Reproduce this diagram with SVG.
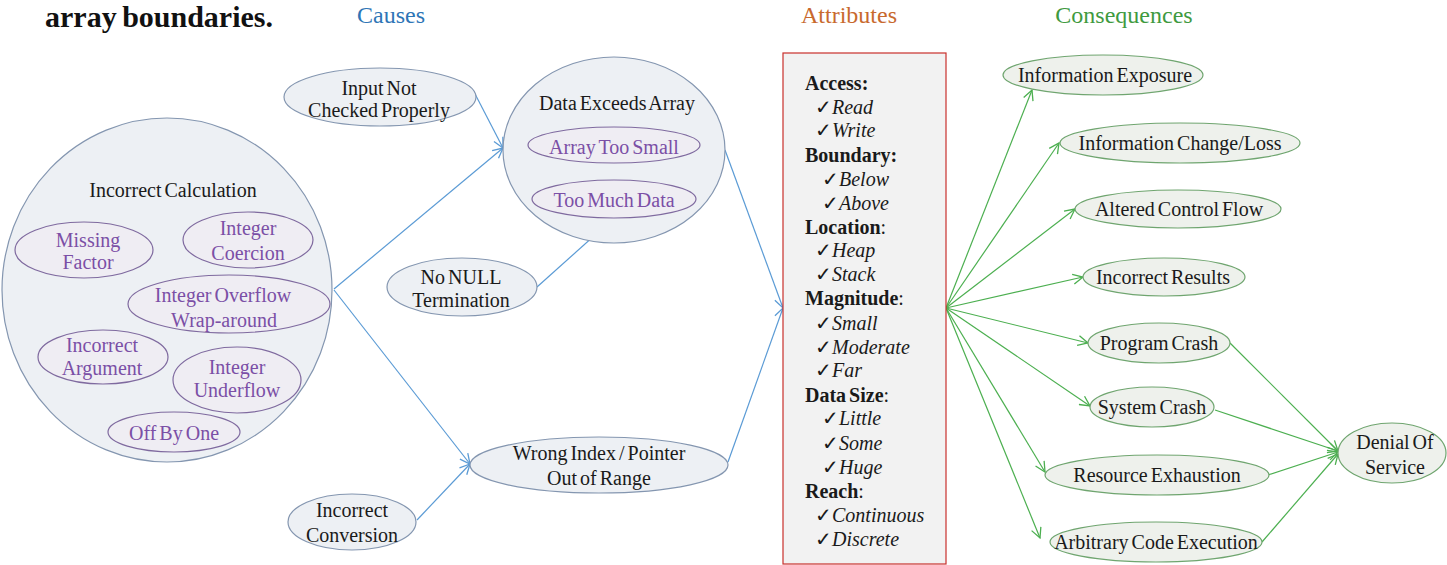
<svg xmlns="http://www.w3.org/2000/svg" width="1447" height="565" viewBox="0 0 1447 565">
<style>
text{font-family:'Liberation Serif','Times New Roman',serif;font-size:20px;word-spacing:-2px;fill:#1a1a1a}
.t{text-anchor:middle}
.p{fill:#7b4fa6}
.cause{fill:#edf0f4;stroke:#8496b0;stroke-width:1.2}
.sub{fill:#efedf3;stroke:#7f6a9f;stroke-width:1.2}
.cons{fill:#eef1ec;stroke:#6fa56f;stroke-width:1.2}
.hd{font-size:24px}
.b{font-weight:bold}
.i{font-style:italic}
.bl{fill:none;stroke:#5b9bd5;stroke-width:1.2}
.gr{fill:none;stroke:#4caf50;stroke-width:1.2}
</style>
<defs>
<marker id="ab" viewBox="0 0 12 12" refX="11" refY="6" markerWidth="12" markerHeight="12" markerUnits="userSpaceOnUse" orient="auto"><path d="M1,1 L11,6 L1,11" fill="none" stroke="#5b9bd5" stroke-width="1.3"/></marker>
<marker id="ag" viewBox="0 0 12 12" refX="11" refY="6" markerWidth="12" markerHeight="12" markerUnits="userSpaceOnUse" orient="auto"><path d="M1,1 L11,6 L1,11" fill="none" stroke="#4caf50" stroke-width="1.3"/></marker>
</defs>
<rect width="1447" height="565" fill="#ffffff"/>
<text x="45" y="27" class="b" style="font-size:30px;fill:#111">array boundaries.</text>
<text x="391" y="23" class="t hd" style="fill:#2e75b6">Causes</text>
<text x="849" y="23" class="t hd" style="fill:#c8692e">Attributes</text>
<text x="1124" y="23" class="t hd" style="fill:#3f9a3f">Consequences</text>

<g id="connectors">
<line class="bl" x1="473" y1="90" x2="503" y2="148" marker-end="url(#ab)"/>
<line class="bl" x1="334" y1="289" x2="503" y2="148" marker-end="url(#ab)"/>
<line class="bl" x1="537" y1="287" x2="614" y2="218" marker-end="url(#ab)"/>
<line class="bl" x1="334" y1="290" x2="470" y2="464" marker-end="url(#ab)"/>
<line class="bl" x1="417" y1="520" x2="470" y2="464" marker-end="url(#ab)"/>
<line class="bl" x1="725" y1="150" x2="783" y2="308" marker-end="url(#ab)"/>
<line class="bl" x1="728" y1="462" x2="783" y2="308" marker-end="url(#ab)"/>
<line class="gr" x1="946" y1="308" x2="1032" y2="90" marker-end="url(#ag)"/>
<line class="gr" x1="946" y1="308" x2="1059" y2="143" marker-end="url(#ag)"/>
<line class="gr" x1="946" y1="308" x2="1075" y2="209" marker-end="url(#ag)"/>
<line class="gr" x1="946" y1="308" x2="1083" y2="277" marker-end="url(#ag)"/>
<line class="gr" x1="946" y1="308" x2="1088" y2="343" marker-end="url(#ag)"/>
<line class="gr" x1="946" y1="308" x2="1090" y2="406" marker-end="url(#ag)"/>
<line class="gr" x1="946" y1="308" x2="1045" y2="472" marker-end="url(#ag)"/>
<line class="gr" x1="946" y1="308" x2="1040" y2="538" marker-end="url(#ag)"/>
<line class="gr" x1="1230" y1="343" x2="1338" y2="451" marker-end="url(#ag)"/>
<line class="gr" x1="1215" y1="410" x2="1338" y2="451" marker-end="url(#ag)"/>
<line class="gr" x1="1268" y1="475" x2="1338" y2="452" marker-end="url(#ag)"/>
<line class="gr" x1="1262" y1="542" x2="1338" y2="454" marker-end="url(#ag)"/>
</g>

<g id="input-not-checked">
<ellipse class="cause" cx="380" cy="97" rx="96" ry="29"/>
<text class="t" x="379" y="95">Input Not</text>
<text class="t" x="379" y="117">Checked Properly</text>
</g>

<g id="incorrect-calculation">
<ellipse class="cause" cx="167" cy="290" rx="165" ry="172"/>
<text class="t" x="173" y="197">Incorrect Calculation</text>
</g>
<g id="missing-factor">
<ellipse class="sub" cx="84" cy="250" rx="69" ry="28"/>
<text class="t p" x="88" y="247">Missing</text>
<text class="t p" x="88" y="269">Factor</text>
</g>
<g id="integer-coercion">
<ellipse class="sub" cx="248" cy="240" rx="65" ry="28"/>
<text class="t p" x="248" y="235">Integer</text>
<text class="t p" x="248" y="260">Coercion</text>
</g>
<g id="integer-overflow">
<ellipse class="sub" cx="229" cy="304" rx="101" ry="29"/>
<text class="t p" x="223" y="302">Integer Overflow</text>
<text class="t p" x="224" y="327">Wrap-around</text>
</g>
<g id="incorrect-argument">
<ellipse class="sub" cx="103" cy="357" rx="65" ry="27"/>
<text class="t p" x="102" y="352">Incorrect</text>
<text class="t p" x="102" y="375">Argument</text>
</g>
<g id="integer-underflow">
<ellipse class="sub" cx="237" cy="380" rx="64" ry="33"/>
<text class="t p" x="237" y="374">Integer</text>
<text class="t p" x="237" y="397">Underflow</text>
</g>
<g id="off-by-one">
<ellipse class="sub" cx="174" cy="432" rx="66" ry="20"/>
<text class="t p" x="174" y="440">Off By One</text>
</g>

<g id="data-exceeds-array">
<ellipse class="cause" cx="614" cy="150" rx="111" ry="93"/>
<text class="t" x="617" y="110">Data Exceeds Array</text>
</g>
<g id="array-too-small">
<ellipse class="sub" cx="614" cy="145" rx="86" ry="18"/>
<text class="t p" x="614" y="154">Array Too Small</text>
</g>
<g id="too-much-data">
<ellipse class="sub" cx="614" cy="199" rx="82" ry="19"/>
<text class="t p" x="614" y="207">Too Much Data</text>
</g>

<g id="no-null-termination">
<ellipse class="cause" cx="462" cy="287" rx="75" ry="29"/>
<text class="t" x="461" y="284">No NULL</text>
<text class="t" x="461" y="307">Termination</text>
</g>
<g id="wrong-index">
<ellipse class="cause" cx="599" cy="465" rx="129" ry="28"/>
<text class="t" x="599" y="460">Wrong Index / Pointer</text>
<text class="t" x="599" y="485">Out of Range</text>
</g>
<g id="incorrect-conversion">
<ellipse class="cause" cx="352" cy="522" rx="64" ry="28"/>
<text class="t" x="352" y="517">Incorrect</text>
<text class="t" x="352" y="542">Conversion</text>
</g>

<g id="attributes">
<rect x="783" y="53" width="163" height="511" fill="#f2f2f2" stroke="#c9302c" stroke-width="1.2"/>
<text x="805" y="90" class="b">Access:</text>
<text x="815" y="114">✓<tspan class="i">Read</tspan></text>
<text x="815" y="137">✓<tspan class="i">Write</tspan></text>
<text x="805" y="162" class="b">Boundary:</text>
<text x="822" y="186">✓<tspan class="i">Below</tspan></text>
<text x="822" y="210">✓<tspan class="i">Above</tspan></text>
<text x="805" y="234"><tspan class="b">Location</tspan>:</text>
<text x="815" y="257">✓<tspan class="i">Heap</tspan></text>
<text x="815" y="281">✓<tspan class="i">Stack</tspan></text>
<text x="805" y="305"><tspan class="b">Magnitude</tspan>:</text>
<text x="815" y="330">✓<tspan class="i">Small</tspan></text>
<text x="815" y="354">✓<tspan class="i">Moderate</tspan></text>
<text x="815" y="377">✓<tspan class="i">Far</tspan></text>
<text x="805" y="402"><tspan class="b">Data Size</tspan>:</text>
<text x="822" y="425">✓<tspan class="i">Little</tspan></text>
<text x="822" y="450">✓<tspan class="i">Some</tspan></text>
<text x="822" y="474">✓<tspan class="i">Huge</tspan></text>
<text x="805" y="498"><tspan class="b">Reach</tspan>:</text>
<text x="815" y="522">✓<tspan class="i">Continuous</tspan></text>
<text x="815" y="546">✓<tspan class="i">Discrete</tspan></text>
</g>

<g id="information-exposure">
<ellipse class="cons" cx="1103" cy="75" rx="100" ry="20"/>
<text class="t" x="1105" y="82">Information Exposure</text>
</g>
<g id="information-change">
<ellipse class="cons" cx="1180" cy="143" rx="120" ry="20"/>
<text class="t" x="1180" y="150">Information Change/Loss</text>
</g>
<g id="altered-control-flow">
<ellipse class="cons" cx="1178" cy="209" rx="103" ry="19"/>
<text class="t" x="1179" y="216">Altered Control Flow</text>
</g>
<g id="incorrect-results">
<ellipse class="cons" cx="1164" cy="277" rx="81" ry="19"/>
<text class="t" x="1163" y="284">Incorrect Results</text>
</g>
<g id="program-crash">
<ellipse class="cons" cx="1159" cy="343" rx="71" ry="20"/>
<text class="t" x="1159" y="350">Program Crash</text>
</g>
<g id="system-crash">
<ellipse class="cons" cx="1152" cy="407" rx="62" ry="20"/>
<text class="t" x="1152" y="414">System Crash</text>
</g>
<g id="resource-exhaustion">
<ellipse class="cons" cx="1157" cy="475" rx="112" ry="20"/>
<text class="t" x="1157" y="482">Resource Exhaustion</text>
</g>
<g id="arbitrary-code-execution">
<ellipse class="cons" cx="1156" cy="542" rx="106" ry="20"/>
<text class="t" x="1156" y="549">Arbitrary Code Execution</text>
</g>
<g id="denial-of-service">
<ellipse class="cons" cx="1392" cy="453" rx="54" ry="30"/>
<text class="t" x="1395" y="449">Denial Of</text>
<text class="t" x="1395" y="474">Service</text>
</g>
</svg>
